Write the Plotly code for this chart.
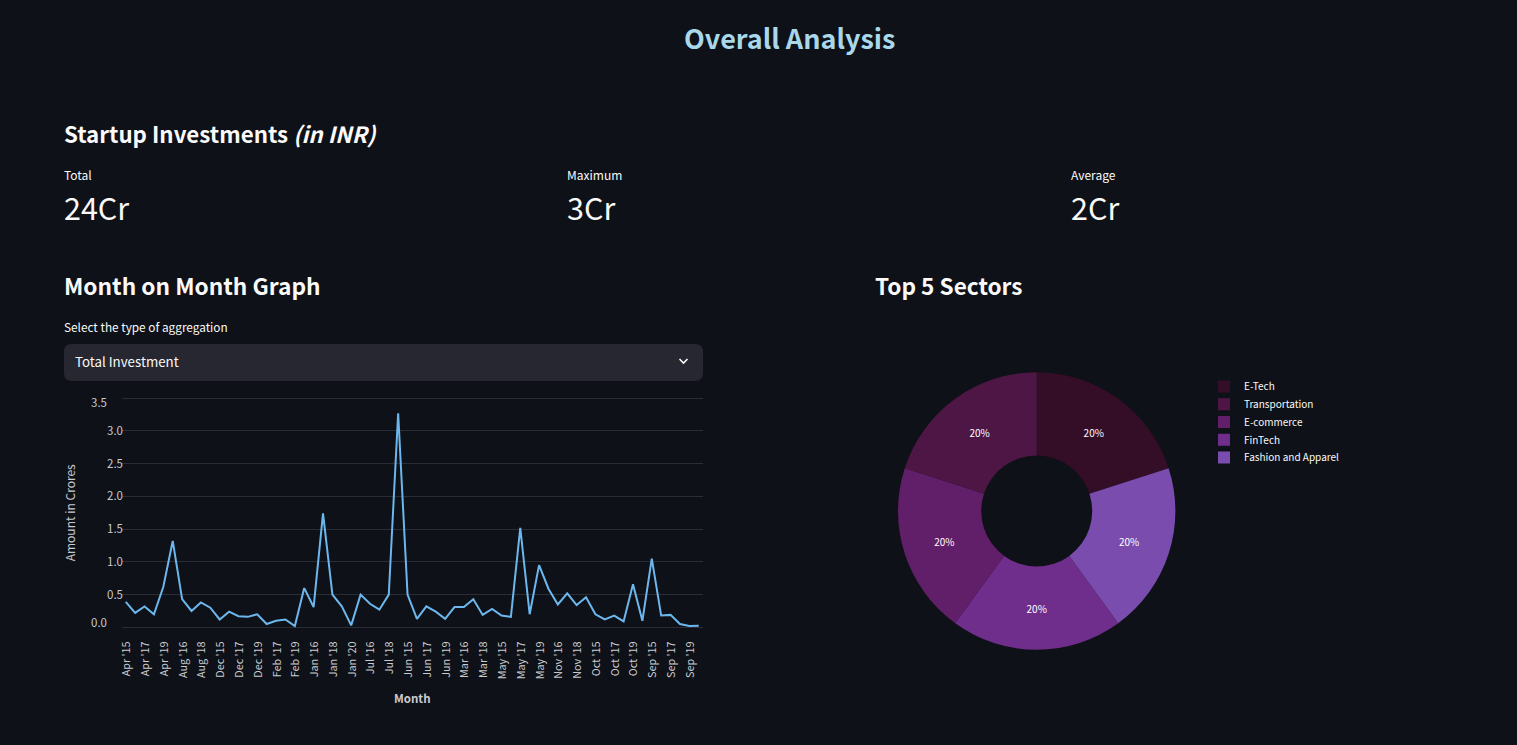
import plotly.graph_objects as go

W, H = 1517, 745
BG = "#0e1117"
FONT = "Noto Sans CJK SC"

months = ["Apr '15","Apr '16","Apr '17","Apr '18","Apr '19","Aug '15","Aug '16","Aug '17","Aug '18","Aug '19",
          "Dec '15","Dec '16","Dec '17","Dec '18","Dec '19","Feb '16","Feb '17","Feb '18","Feb '19","Feb '20",
          "Jan '16","Jan '17","Jan '18","Jan '19","Jan '20","Jul '15","Jul '16","Jul '17","Jul '18","Jul '19",
          "Jun '15","Jun '16","Jun '17","Jun '18","Jun '19","Mar '15","Mar '16","Mar '17","Mar '18","Mar '19",
          "May '15","May '16","May '17","May '18","May '19","Nov '15","Nov '16","Nov '17","Nov '18","Nov '19",
          "Oct '15","Oct '16","Oct '17","Oct '18","Oct '19","Oct '20","Sep '15","Sep '16","Sep '17","Sep '18",
          "Sep '19","Sep '20"]
amounts = [0.39,0.22,0.32,0.20,0.62,1.32,0.43,0.25,0.38,0.30,
           0.12,0.24,0.17,0.16,0.20,0.05,0.10,0.12,0.02,0.60,
           0.31,1.74,0.50,0.32,0.03,0.50,0.36,0.27,0.50,3.27,
           0.50,0.13,0.32,0.24,0.13,0.31,0.31,0.43,0.19,0.28,
           0.18,0.16,1.52,0.20,0.95,0.59,0.35,0.52,0.34,0.46,
           0.20,0.12,0.18,0.09,0.66,0.10,1.05,0.18,0.19,0.05,
           0.02,0.025]
month_ticks = months[0::2]
y_ticks = [0.5, 1.0, 1.5, 2.0, 2.5, 3.0]
y_grid = [0, 0.5, 1.0, 1.5, 2.0, 2.5, 3.0, 3.5]

sectors = ["E-Tech", "Transportation", "E-commerce", "FinTech", "Fashion and Apparel"]
sector_share = [20, 20, 20, 20, 20]
sector_colors = ["#340d26", "#4e1645", "#611e69", "#6f2e8c", "#7a4cae"]


def px(x):
    return x / W


def py(y):
    return 1 - y / H


def label(text, x, y, size, color="#fafafa", xanchor="left"):
    xpad = -2 if xanchor == "left" else 0
    return dict(text=text, x=px(x + xpad), y=py(y), xref="paper", yref="paper", xanchor=xanchor, yanchor="middle",
                showarrow=False, font=dict(family=FONT, size=size, color=color))


fig = go.Figure()
fig.add_trace(go.Scatter(x=months, y=amounts, mode="lines", line=dict(color="#6cb8ee", width=2),
                         showlegend=False, cliponaxis=False))
fig.add_trace(go.Pie(labels=sectors, values=sector_share, hole=0.4, sort=False, direction="counterclockwise",
                     rotation=0, marker=dict(colors=sector_colors, line=dict(width=0)),
                     textinfo="percent", textposition="inside", insidetextorientation="horizontal",
                     textfont=dict(family=FONT, size=10, color="#ffffff"),
                     domain=dict(x=[px(1036.7 - 138.7), px(1036.7 + 138.7)], y=[py(511 + 138.7), py(511 - 138.7)])))

annotations = [
    label("<b>Overall Analysis</b>", 789, 37.5, 27, "#a8d8ea", "center"),
    label("<b>Startup Investments <i>(in INR)</i></b>", 64, 133, 22.3),
    label("Total", 64, 174.5, 12), label("24Cr", 64, 207, 30.5),
    label("Maximum", 567, 174.5, 12), label("3Cr", 567, 207, 30.5),
    label("Average", 1071, 174.5, 12), label("2Cr", 1071, 207, 30.5),
    label("<b>Month on Month Graph</b>", 64, 285, 22.7),
    label("<b>Top 5 Sectors</b>", 875, 285, 22.6),
    label("Select the type of aggregation", 64, 326.5, 11.8),
    label("Total Investment", 75, 362, 13.3),
    dict(text="0.0", x=0, y=0, xref="x domain", yref="y", xanchor="right", yanchor="middle", xshift=-13, yshift=5,
         showarrow=False, font=dict(family=FONT, size=11.5, color="#c9cbd0")),
    dict(text="3.5", x=0, y=3.5, xref="x domain", yref="y", xanchor="right", yanchor="middle", xshift=-13, yshift=-4,
         showarrow=False, font=dict(family=FONT, size=11.5, color="#c9cbd0")),
]

shapes = [
    dict(type="path", xref="paper", yref="paper", layer="below", line=dict(width=0), fillcolor="#262730",
         path=(f"M {px(72)} {py(344)} L {px(695)} {py(344)} Q {px(703)} {py(344)} {px(703)} {py(352)} "
               f"L {px(703)} {py(373)} Q {px(703)} {py(381)} {px(695)} {py(381)} L {px(72)} {py(381)} "
               f"Q {px(64)} {py(381)} {px(64)} {py(373)} L {px(64)} {py(352)} Q {px(64)} {py(344)} {px(72)} {py(344)} Z")),
    dict(type="path", xref="paper", yref="paper", line=dict(width=1.6, color="#fafafa"),
         path=f"M {px(679.5)} {py(359)} L {px(683.5)} {py(363)} L {px(687.5)} {py(359)}"),
]

fig.update_layout(
    width=W, height=H, margin=dict(l=0, r=0, t=0, b=0), autosize=False,
    paper_bgcolor=BG, plot_bgcolor=BG, font=dict(family=FONT, color="#fafafa"),
    annotations=annotations, shapes=shapes,
    xaxis=dict(domain=[px(122), px(702.5)], type="category", categoryorder="array", categoryarray=months,
               range=[-0.4, 61.4], tickmode="array", tickvals=month_ticks, ticktext=month_ticks, tickangle=-90,
               showgrid=False, zeroline=False, showline=False, ticks="", automargin=False,
               ticklabelstandoff=9, ticklabelshift=1,
               tickfont=dict(family=FONT, size=10.8, color="#c9cbd0"),
               title=dict(text="<b>Month</b>", standoff=16, font=dict(family=FONT, size=11.5, color="#c9cbd0"))),
    yaxis=dict(domain=[py(629.3), py(396.3)], range=[-0.03, 3.53], tickmode="array", tickvals=y_ticks,
               ticktext=[f"{v:.1f}" for v in y_ticks], showgrid=False, zeroline=False, showline=False, ticks="",
               ticklabelstandoff=-2, automargin=False,
               minor=dict(tickmode="array", tickvals=y_grid, showgrid=True, gridcolor="#2a2d36", gridwidth=1, ticks=""),
               tickfont=dict(family=FONT, size=11.5, color="#c9cbd0"),
               title=dict(text="Amount in Crores", standoff=28, font=dict(family=FONT, size=12, color="#c9cbd0"))),
    legend=dict(x=px(1204), y=py(372), xanchor="left", yanchor="top", bgcolor="rgba(0,0,0,0)",
                font=dict(family=FONT, size=10, color="#fafafa"), tracegroupgap=0),
)

post = """
document.body.style.margin='0';document.body.style.background='#0e1117';
document.documentElement.style.overflow='hidden';
var rows=document.querySelectorAll('.legend .traces');
var y0=null;
rows.forEach(function(r,i){
  var m=/translate\\(([-\\d.]+),\\s*([-\\d.]+)\\)/.exec(r.getAttribute('transform'));
  if(y0===null){y0=parseFloat(m[2]);}
  r.setAttribute('transform','translate('+m[1]+','+(y0+i*17.75)+')');
});
"""
fig.write_html("out.html", config=dict(displayModeBar=False), post_script=post)
